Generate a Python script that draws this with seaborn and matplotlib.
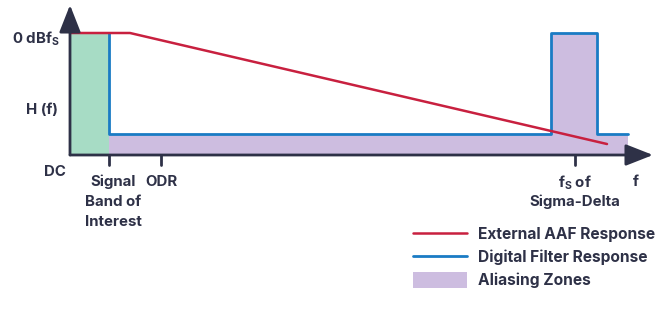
import matplotlib
matplotlib.use("Agg")
import matplotlib.pyplot as plt
import seaborn as sns
import pandas as pd
from matplotlib.lines import Line2D
from matplotlib.patches import Patch

sns.set_theme(style="white")
plt.rcParams['font.family'] = ['Inter', 'DejaVu Sans']

# ---- data (frequency in arbitrary units, amplitude normalised: 1 = 0 dBFS) ----
signal_band = 39
odr = 91
fs = 505
pulse_lo, pulse_hi = 481, 527
f_end = 558
full_level = 1.0
h_level = 0.172
alias_level = 0.164

aaf_f = [0, 60, 537]
aaf_a = [1.0, 1.0, 0.09]

dig_f = [signal_band, signal_band, pulse_lo, pulse_lo, pulse_hi, pulse_hi, f_end]
dig_a = [full_level, h_level, h_level, full_level, full_level, h_level, h_level]

tick_pos = [0, signal_band, odr, fs]
legend_labels = ["External AAF Response", "Digital Filter Response", "Aliasing Zones"]

RED = "#c8203f"
BLUE = "#1a7bc4"
GREEN = "#a7dcc5"
PURPLE = "#cdbde0"
DARK = "#2e3147"

UNIT = 122.0  # pixels per amplitude unit


def py(p):
    """convert a pixel offset below the baseline into amplitude units"""
    return -p / UNIT


fig = plt.figure(figsize=(6.66, 3.09), dpi=100)
ax = fig.add_axes([0, 0, 1, 1])

# fills
ax.fill_between([0, signal_band], 0, full_level, color=GREEN, lw=0, zorder=1)
ax.fill_between([signal_band, f_end], 0, alias_level, color=PURPLE, lw=0, zorder=1)
ax.fill_between([pulse_lo, pulse_hi], 0, full_level, color=PURPLE, lw=0, zorder=1)

# lines
df_dig = pd.DataFrame({"f": dig_f, "a": dig_a})
sns.lineplot(data=df_dig, x="f", y="a", sort=False, estimator=None, errorbar=None,
             color=BLUE, lw=2, ax=ax, zorder=3)
df_aaf = pd.DataFrame({"f": aaf_f, "a": aaf_a})
sns.lineplot(data=df_aaf, x="f", y="a", sort=False, estimator=None, errorbar=None,
             color=RED, lw=1.8, ax=ax, zorder=4)
ax.set_xlim(-70, 596)
ax.set_ylim(-(309 - 155) / UNIT, 155 / UNIT)
ax.axis("off")

# axes arrows
ax.annotate("", xy=(0, 150 / UNIT), xytext=(0, 0),
            arrowprops=dict(arrowstyle="-|>,head_length=1.4,head_width=0.55",
                            color=DARK, lw=2, shrinkA=0, shrinkB=0), zorder=5)
ax.annotate("", xy=(583, 0), xytext=(0, 0),
            arrowprops=dict(arrowstyle="-|>,head_length=1.4,head_width=0.55",
                            color=DARK, lw=2, shrinkA=0, shrinkB=0), zorder=5)

# ticks
for t in tick_pos[1:]:
    ax.plot([t, t], [0, py(10)], color=DARK, lw=2, zorder=5)

fs_kw = dict(color=DARK, fontsize=10.8, fontweight="bold", va="center")
# y labels
ax.text(-10, full_level - 6 / UNIT, r"0 dBf$_\mathregular{S}$", ha="right", **fs_kw)
ax.text(-12, 45 / UNIT, "H (f)", ha="right", **fs_kw)
# x labels
ax.text(-4, py(17), "DC", ha="right", **fs_kw)
for i, line in enumerate(["Signal", "Band of", "Interest"]):
    ax.text(signal_band + 4, py(27 + 20 * i), line, ha="center", **fs_kw)
ax.text(odr, py(27), "ODR", ha="center", **fs_kw)
ax.text(fs, py(28), r"f$_\mathregular{S}$ of", ha="center", **fs_kw)
ax.text(fs, py(47), "Sigma-Delta", ha="center", **fs_kw)
ax.text(566, py(27), "f", ha="center", **fs_kw)

handles = [Line2D([], [], color=RED, lw=1.8),
           Line2D([], [], color=BLUE, lw=2),
           Patch(facecolor=PURPLE, edgecolor="none")]
leg = ax.legend(handles, legend_labels, loc="lower left", bbox_to_anchor=(399 / 666, 7 / 309),
                frameon=False, prop={"weight": "bold", "size": 11.2},
                handlelength=3.5, handleheight=1.2, handletextpad=0.65, labelspacing=0.42)
for t in leg.get_texts():
    t.set_color(DARK)

fig.savefig("out.png", dpi=100, facecolor="white")
